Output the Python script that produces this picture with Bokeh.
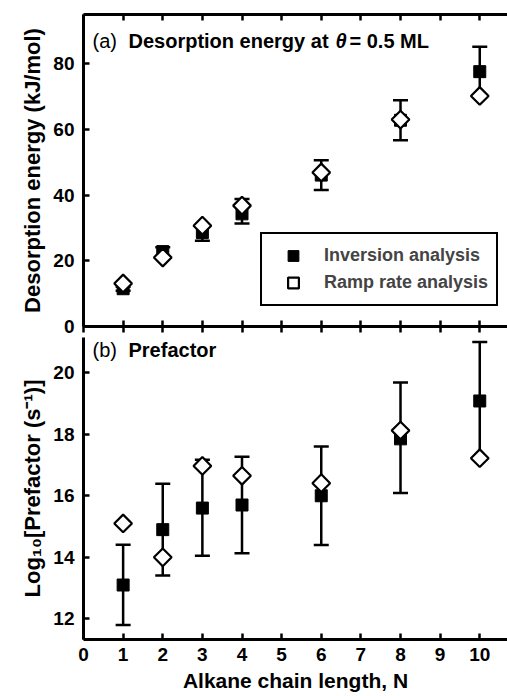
import numpy as np
from bokeh.plotting import figure
from bokeh.models import (ColumnDataSource, Whisker, TeeHead, Legend, LegendItem,
                          Label, FixedTicker, LinearAxis, Range1d)
from bokeh.layouts import column
from bokeh.embed import file_html
from bokeh.resources import INLINE

# ---------------- data ----------------
chain_length = [1, 2, 3, 4, 6, 8, 10]

# (a) desorption energy at 0.5 ML, kJ/mol
energy_inversion = [11.5, 22.8, 28.6, 34.3, 46.1, 62.8, 77.6]
energy_inversion_upper = [12.1, 24.1, 30.8, 38.8, 50.6, 68.9, 85.2]
energy_inversion_lower = [10.9, 21.5, 26.1, 31.4, 41.6, 56.7, 70.0]
energy_ramp = [13.1, 21.0, 30.7, 36.8, 46.9, 63.0, 70.2]

# (b) log10 prefactor (s^-1)
prefactor_inversion = [13.1, 14.9, 15.6, 15.7, 16.0, 17.85, 19.08]
prefactor_inversion_upper = [14.41, 16.39, 17.17, 17.27, 17.6, 19.68, 21.0]
prefactor_inversion_lower = [11.8, 13.41, 14.05, 14.13, 14.4, 16.09, 17.2]
prefactor_ramp = [15.1, 14.0, 16.97, 16.65, 16.41, 18.12, 17.22]

x_ticks = [0, 1, 2, 3, 4, 5, 6, 7, 8, 9, 10]
energy_ticks = [0, 20, 40, 60, 80]
prefactor_ticks = [12, 14, 16, 18, 20]

series_names = ["Inversion analysis", "Ramp rate analysis"]
# --------------------------------------------------------------

FONT = "Liberation Sans"
X_RANGE = (0, 10.7)
E_RANGE = (0, 95)
P_RANGE = (11.33, 21.5)

# layout (pixels)
LEFT = 83
FRAME_W = 424
TOP_GAP = 14
H1 = 312       # frame height of panel (a)
GAP = 11       # border below panel (a) (room for its "0" label)
H2 = 302       # frame height of panel (b)

e_px = H1 / (E_RANGE[1] - E_RANGE[0])
p_px = (H2 + GAP) / (P_RANGE[1] - P_RANGE[0])
p2_top = P_RANGE[1] - GAP / p_px


def style_axis(ax, labels=True):
    ax.axis_line_width = 3
    ax.axis_line_color = "black"
    ax.major_tick_line_width = 2.5
    ax.major_tick_line_color = "black"
    ax.major_tick_in = 6
    ax.major_tick_out = 0
    ax.minor_tick_line_color = None
    ax.major_label_text_font = FONT
    ax.major_label_text_font_style = "bold"
    ax.major_label_text_font_size = "19px"
    ax.major_label_text_color = "black"
    ax.axis_label_text_font = FONT
    ax.axis_label_text_font_style = "bold"
    ax.axis_label_text_font_size = "21px"
    ax.axis_label_text_color = "black"
    if not labels:
        ax.major_label_text_color = None
        ax.major_label_standoff = 0
        ax.axis_label = None


def make_fig(yr, h, **kw):
    p = figure(frame_width=FRAME_W, frame_height=h,
               x_range=Range1d(*X_RANGE), y_range=Range1d(*yr),
               output_backend="svg", toolbar_location=None,
               min_border_left=LEFT, min_border_right=0, **kw)
    p.outline_line_color = None
    p.xgrid.visible = False
    p.ygrid.visible = False
    p.background_fill_color = "white"
    p.border_fill_color = "white"
    return p


def add_series(p, y_inv, up, lo, y_ramp):
    src = ColumnDataSource(dict(x=chain_length, y=y_inv, upper=up, lower=lo))
    src2 = ColumnDataSource(dict(x=chain_length, y=y_ramp))
    wh = Whisker(base="x", upper="upper", lower="lower", source=src,
                 line_width=2.5, line_color="black", level="underlay",
                 upper_head=TeeHead(size=15, line_width=2.5, line_color="black"),
                 lower_head=TeeHead(size=15, line_width=2.5, line_color="black"))
    p.add_layout(wh)
    sq = p.scatter("x", "y", source=src, marker="square", size=12,
                   fill_color="black", line_color="black", line_width=1)
    dm = p.scatter("x", "y", source=src2, marker="square", angle=np.pi / 4,
                   size=12.5, fill_color="white", line_color="black", line_width=2.2)
    return sq, dm


# ---------------- panel (a) ----------------
p1 = make_fig(E_RANGE, H1, min_border_top=TOP_GAP, min_border_bottom=GAP)
p1.xaxis.ticker = FixedTicker(ticks=x_ticks)
style_axis(p1.xaxis[0], labels=False)
p1.xaxis.major_tick_out = 6          # inward ticks of panel (b) on the shared line
p1.yaxis.ticker = FixedTicker(ticks=energy_ticks)
p1.yaxis.axis_label = "Desorption energy (kJ/mol)"
style_axis(p1.yaxis[0])
p1.yaxis.axis_label_text_font_size = "22px"
p1.yaxis.major_label_standoff = 9
p1.yaxis.bounds = (E_RANGE[0] - GAP / e_px, E_RANGE[1])
top_ax = LinearAxis(ticker=FixedTicker(ticks=x_ticks))
style_axis(top_ax, labels=False)
p1.add_layout(top_ax, "above")

sq1, dm1 = add_series(p1, energy_inversion, energy_inversion_upper,
                      energy_inversion_lower, energy_ramp)

legend = Legend(items=[LegendItem(label=series_names[0], renderers=[sq1]),
                       LegendItem(label=series_names[1], renderers=[dm1])],
                location=(177, 20), border_line_color="black", border_line_width=2,
                border_line_alpha=1.0,
                label_text_font=FONT, label_text_font_style="bold",
                label_text_font_size="18px", padding=8, spacing=0,
                glyph_width=46, glyph_height=27, label_height=27,
                label_standoff=8, margin=0, background_fill_alpha=1)
p1.add_layout(legend)

tkw = dict(text_font=FONT, text_font_size="20px", text_baseline="middle",
           text_color="black")
TY1 = E_RANGE[1] - 26 / e_px
p1.add_layout(Label(x=0, y=TY1, x_offset=9, text="(a)", **tkw))
p1.add_layout(Label(x=0, y=TY1, x_offset=45, text="Desorption energy at",
                    text_font_style="bold", **tkw))
p1.add_layout(Label(x=0, y=TY1, x_offset=252, text="\u03b8",
                    text_font_style="bold italic", **tkw))
p1.add_layout(Label(x=0, y=TY1, x_offset=266, text="= 0.5 ML",
                    text_font_style="bold", **tkw))

# ---------------- panel (b) ----------------
p2 = make_fig((P_RANGE[0], p2_top), H2, min_border_top=0, min_border_bottom=0)
p2.xaxis.ticker = FixedTicker(ticks=x_ticks)
p2.xaxis.axis_label = "Alkane chain length, N"
style_axis(p2.xaxis[0])
p2.xaxis.major_label_standoff = 8
p2.xaxis.axis_label_standoff = 5
p2.yaxis.ticker = FixedTicker(ticks=prefactor_ticks)
p2.yaxis.axis_label = "Log\u2081\u2080[Prefactor (s\u207b\u00b9)]"
style_axis(p2.yaxis[0])
p2.yaxis.axis_label_text_font_size = "22px"
p2.yaxis.major_label_standoff = 9

add_series(p2, prefactor_inversion, prefactor_inversion_upper,
           prefactor_inversion_lower, prefactor_ramp)

TY2 = P_RANGE[1] - 23 / p_px
p2.add_layout(Label(x=0, y=TY2, x_offset=9, text="(b)", **tkw))
p2.add_layout(Label(x=0, y=TY2, x_offset=45, text="Prefactor",
                    text_font_style="bold", **tkw))

layout = column(p1, p2, spacing=0)
open("out.html", "w").write(file_html(layout, INLINE))
